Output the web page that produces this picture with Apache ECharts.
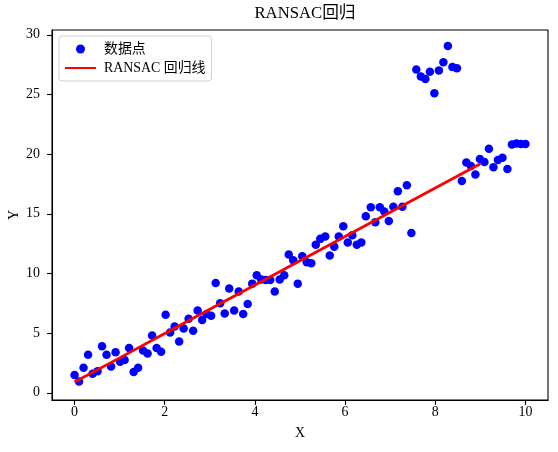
<!DOCTYPE html>
<html><head><meta charset="utf-8">
<script src="https://cdn.jsdelivr.net/npm/echarts@6/dist/echarts.min.js"></script>
<style>html,body{margin:0;padding:0;background:#fff}#c{width:558px;height:452px}</style>
</head><body><div id="c"></div>
<script>
const pointX = [0.00,0.10,0.20,0.30,0.40,0.51,0.61,0.71,0.81,0.91,
  1.01,1.11,1.21,1.31,1.41,1.52,1.62,1.72,1.82,1.92,
  2.02,2.12,2.22,2.32,2.42,2.53,2.63,2.73,2.83,2.93,
  3.03,3.13,3.23,3.33,3.43,3.54,3.64,3.74,3.84,3.94,
  4.04,4.14,4.24,4.34,4.44,4.55,4.65,4.75,4.85,4.95,
  5.05,5.15,5.25,5.35,5.45,5.56,5.66,5.76,5.86,5.96,
  6.06,6.16,6.26,6.36,6.46,6.57,6.67,6.77,6.87,6.97,
  7.07,7.17,7.27,7.37,7.47,7.58,7.68,7.78,7.88,7.98,
  8.08,8.18,8.28,8.38,8.48,8.59,8.69,8.79,8.89,8.99,
  9.09,9.19,9.29,9.39,9.49,9.60,9.70,9.80,9.90,10.00];
const pointY = [1.5,0.95,2.1,3.2,1.6,1.8,3.9,3.2,2.2,3.4,
  2.6,2.75,3.75,1.75,2.1,3.55,3.3,4.8,3.75,3.45,
  6.55,5.05,5.55,4.3,5.4,6.2,5.2,6.9,6.1,6.6,
  6.45,9.2,7.5,6.65,8.75,6.9,8.5,6.6,7.45,9.15,
  9.85,9.5,9.45,9.45,8.5,9.5,9.85,11.6,11.1,9.15,
  11.45,10.95,10.85,12.4,12.9,13.1,11.5,12.25,13.1,13.95,
  12.6,13.2,12.4,12.6,14.8,15.55,14.3,15.55,15.2,14.4,
  15.6,16.9,15.6,17.4,13.4,27.1,26.5,26.3,26.9,25.1,
  27.0,27.7,29.05,27.3,27.2,17.75,19.3,19.0,18.3,19.6,
  19.35,20.45,18.9,19.5,19.7,18.75,20.8,20.9,20.85,20.85];
const lineX = [0,1,2,3,4,5,6,7,8,9];
const lineY = [0.9,2.93,4.97,7.0,9.03,11.07,13.1,15.13,17.17,19.2];
const xTicks = [0,2,4,6,8,10];
const yTicks = [0,5,10,15,20,25,30];
const FONT = "'Liberation Serif','Noto Sans CJK SC',serif";

const chart = echarts.init(document.getElementById('c'), null, {renderer:'canvas'});
chart.setOption({
  animation:false,
  backgroundColor:'#fff',
  title:{text:'RANSAC回归', left:300, textAlign:'center', top:0,
    textStyle:{fontFamily:FONT,fontSize:16.7,fontWeight:'normal',color:'#000'}},
  legend:{left:59, top:36, orient:'vertical', padding:[6,6,6,5], itemGap:5,
    itemWidth:31, itemHeight:9,
    backgroundColor:'#fff', borderColor:'#d0d0d0', borderWidth:1, borderRadius:3,
    textStyle:{fontFamily:FONT,fontSize:13.9,color:'#000',lineHeight:14,padding:[0,0,0,3]},
    data:[{name:'数据点',icon:'circle'},{name:'RANSAC 回归线',itemStyle:{opacity:0}}]},
  grid:{left:52, right:10, top:30, bottom:52, show:true, borderColor:'#000', borderWidth:1.1,
    containLabel:false, outerBoundsMode:'none'},
  xAxis:{type:'value', min:-0.5, max:10.5,
    axisLine:{show:true, onZero:false, lineStyle:{color:'#000',width:1.1}},
    axisTick:{show:true, customValues:xTicks, length:4.9, lineStyle:{color:'#000',width:1.1}},
    axisLabel:{customValues:xTicks, margin:5.5, fontFamily:FONT, fontSize:13.9, color:'#000'},
    splitLine:{show:false},
    name:'X', nameLocation:'middle', nameGap:26,
    nameTextStyle:{fontFamily:FONT,fontSize:13.9,color:'#000'}},
  yAxis:{type:'value', min:-0.6, max:30.4,
    axisLine:{show:true, onZero:false, lineStyle:{color:'#000',width:1.1}},
    axisTick:{show:true, customValues:yTicks, length:4.9, lineStyle:{color:'#000',width:1.1}},
    axisLabel:{customValues:yTicks, margin:12, fontFamily:FONT, fontSize:13.9, color:'#000'},
    splitLine:{show:false},
    name:'Y', nameLocation:'middle', nameGap:31, nameMoveOverlap:false,
    nameTextStyle:{fontFamily:FONT,fontSize:13.9,color:'#000'}},
  series:[
    {type:'scatter', name:'数据点', data:pointX.map((x,i)=>[x,pointY[i]]),
      symbol:'circle', symbolSize:8.5, itemStyle:{color:'#0000ff',opacity:1}},
    {type:'line', name:'RANSAC 回归线', data:lineX.map((x,i)=>[x,lineY[i]]),
      symbol:'none', lineStyle:{color:'#ff0000',width:2.8}, itemStyle:{color:'#ff0000'}}
  ]
});
</script></body></html>
